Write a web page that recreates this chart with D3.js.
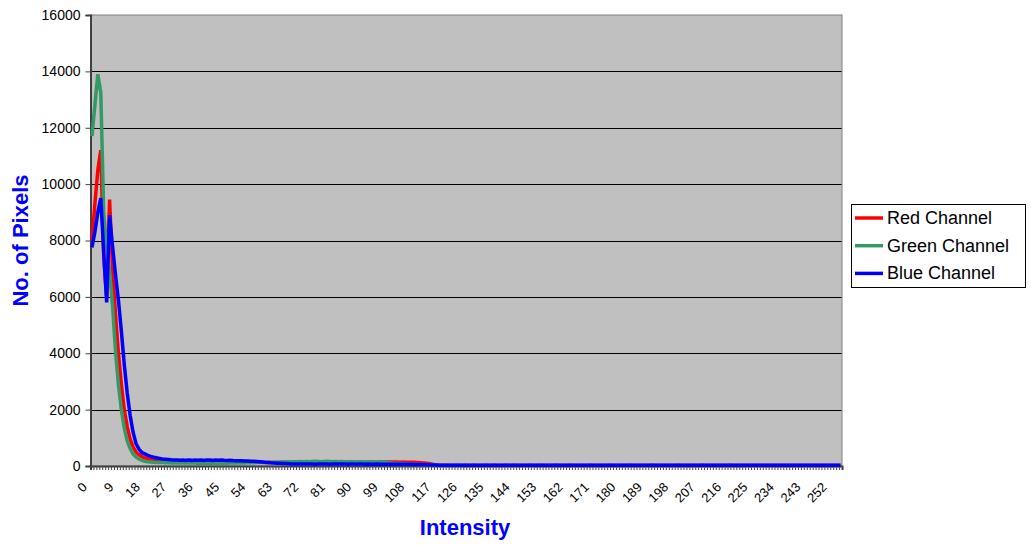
<!DOCTYPE html>
<html>
<head>
<meta charset="utf-8">
<script src="https://cdn.jsdelivr.net/npm/d3@7"></script>
<style>
  body { margin: 0; background: #fff; }
  svg { display: block; font-family: 'Liberation Sans', Arial, sans-serif; }
</style>
</head>
<body>
<svg id="chart" width="1031" height="545"></svg>
<script>

// intensity 0..255
var intensities = d3.range(0, 256);
var yTicks = [0, 2000, 4000, 6000, 8000, 10000, 12000, 14000, 16000];
var xLabelValues = d3.range(0, 256, 9);

var redChannel = [
  8000, 9300, 10500, 11200, 7400, 6000, 9450, 7000, 5400, 4000,
  2900, 2000, 1400, 950, 680, 500, 400, 330, 290, 260,
  240, 230, 220, 210, 205, 200, 195, 190, 185, 190,
  180, 185, 175, 180, 170, 175, 170, 165, 170, 160,
  165, 160, 160, 155, 160, 150, 155, 150, 150, 145,
  150, 140, 145, 140, 135, 140, 130, 135, 130, 125,
  125, 120, 125, 120, 125, 130, 125, 130, 135, 130,
  135, 130, 135, 140, 135, 130, 135, 140, 135, 130,
  135, 130, 135, 140, 135, 130, 135, 130, 135, 130,
  135, 140, 130, 135, 130, 135, 130, 135, 140, 135,
  140, 145, 140, 145, 140, 135, 140, 135, 130, 135,
  130, 120, 115, 110, 100, 80, 60, 40, 35, 30,
  28, 25, 24, 22, 25, 23, 21, 24, 22, 20,
  23, 21, 22, 20, 24, 22, 21, 23, 20, 22,
  21, 24, 22, 20, 23, 21, 22, 20, 21, 23,
  22, 20, 21, 24, 22, 21, 20, 22, 23, 21,
  20, 22, 21, 23, 20, 22, 21, 20, 22, 21,
  23, 20, 21, 22, 20, 21, 23, 22, 20, 21,
  22, 20, 21, 23, 21, 20, 22, 21, 20, 22,
  21, 23, 20, 21, 22, 20, 21, 22, 20, 21,
  23, 21, 20, 22, 21, 20, 22, 21, 23, 20,
  21, 22, 20, 21, 22, 20, 21, 23, 22, 20,
  21, 22, 20, 21, 22, 20, 21, 22, 20, 21,
  22, 20, 21, 22, 20, 21, 22, 20, 21, 22,
  20, 21, 22, 20, 21, 22, 20, 21, 22, 20,
  21, 22, 20, 21, 22, 20
];

var greenChannel = [
  11700, 12800, 13900, 13250, 9000, 7800, 6900, 5700, 4100, 2900,
  2000, 1350, 900, 620, 430, 320, 250, 200, 170, 150,
  140, 130, 125, 120, 120, 115, 115, 110, 115, 110,
  110, 105, 110, 105, 110, 105, 100, 105, 100, 105,
  100, 100, 105, 100, 100, 105, 100, 105, 110, 105,
  110, 115, 110, 115, 120, 115, 120, 125, 120, 125,
  130, 125, 130, 135, 140, 145, 150, 150, 155, 150,
  155, 160, 155, 160, 155, 160, 165, 160, 155, 160,
  165, 160, 155, 160, 155, 160, 155, 150, 155, 150,
  155, 150, 145, 150, 145, 150, 145, 140, 145, 140,
  130, 120, 110, 100, 95, 90, 85, 80, 75, 70,
  65, 60, 55, 50, 45, 40, 35, 30, 25, 22,
  20, 18, 16, 15, 16, 14, 15, 16, 14, 15,
  16, 15, 14, 15, 16, 14, 15, 14, 16, 15,
  14, 15, 16, 14, 15, 16, 15, 14, 15, 16,
  14, 15, 14, 16, 15, 14, 15, 16, 14, 15,
  15, 14, 16, 15, 14, 15, 16, 14, 15, 14,
  16, 15, 14, 15, 16, 14, 15, 14, 16, 15,
  14, 15, 16, 14, 15, 16, 15, 14, 15, 16,
  14, 15, 14, 16, 15, 14, 15, 16, 14, 15,
  15, 14, 16, 15, 14, 15, 16, 14, 15, 14,
  16, 15, 14, 15, 16, 14, 15, 14, 16, 15,
  14, 15, 16, 14, 15, 16, 15, 14, 15, 16,
  14, 15, 14, 16, 15, 14, 15, 16, 14, 15,
  15, 14, 16, 15, 14, 15, 16, 14, 15, 14,
  16, 15, 14, 15, 16, 14
];

var blueChannel = [
  7750, 8300, 9000, 9500, 7600, 5800, 8900, 7800, 6800, 5900,
  4800, 3600, 2600, 1800, 1200, 800, 600, 480, 430, 380,
  340, 310, 290, 270, 250, 240, 230, 220, 215, 210,
  205, 215, 200, 210, 200, 215, 205, 210, 200, 215,
  210, 200, 215, 205, 210, 200, 195, 205, 195, 190,
  185, 190, 180, 175, 170, 165, 160, 150, 140, 130,
  125, 115, 110, 100, 95, 90, 85, 80, 75, 72,
  70, 74, 70, 68, 72, 70, 66, 70, 72, 68,
  70, 66, 70, 68, 72, 70, 68, 66, 70, 68,
  66, 70, 68, 65, 68, 66, 64, 68, 65, 63,
  66, 64, 62, 65, 63, 60, 62, 60, 58, 60,
  56, 55, 52, 50, 46, 42, 38, 32, 28, 26,
  25, 24, 26, 25, 23, 25, 24, 26, 25, 24,
  23, 25, 24, 26, 24, 25, 23, 24, 25, 26,
  24, 23, 25, 24, 25, 23, 24, 26, 25, 24,
  25, 23, 24, 25, 26, 24, 23, 25, 24, 25,
  24, 26, 25, 23, 24, 25, 24, 26, 23, 25,
  24, 25, 23, 24, 26, 25, 24, 23, 25, 24,
  26, 24, 25, 23, 24, 25, 26, 24, 23, 25,
  24, 25, 23, 24, 26, 25, 24, 25, 23, 24,
  25, 26, 24, 23, 25, 24, 25, 24, 26, 23,
  25, 24, 25, 23, 24, 26, 25, 24, 23, 25,
  24, 26, 24, 25, 23, 24, 25, 26, 24, 23,
  25, 24, 25, 23, 24, 26, 25, 24, 25, 23,
  24, 25, 26, 24, 23, 25, 24, 25, 24, 26,
  23, 25, 24, 25, 23, 24
];

var seriesNames = ['Red Channel', 'Green Channel', 'Blue Channel'];
var seriesColors = ['#ff0000', '#339966', '#0000ff'];
var seriesValues = [redChannel, greenChannel, blueChannel];

var margin = {top: 15, right: 189, bottom: 79, left: 90.5};
var width = 1031 - margin.left - margin.right;
var height = 545 - margin.top - margin.bottom;

var svg = d3.select('#chart');
var g = svg.append('g')
    .attr('transform', 'translate(' + margin.left + ',' + margin.top + ')');

var x = d3.scaleBand().domain(intensities).range([0, width]);
var xEdge = d3.scaleLinear().domain([0, 256]).range([0, width]);
var y = d3.scaleLinear().domain([0, 16000]).range([height, 0]);

// plot background
g.append('rect')
    .attr('width', width)
    .attr('height', height)
    .attr('fill', '#c0c0c0');

// gridlines
g.selectAll('.grid')
    .data(yTicks.slice(1, -1))
    .enter()
    .append('line')
    .attr('x1', 0)
    .attr('x2', width)
    .attr('y1', d => Math.round(y(d)) + 0.5)
    .attr('y2', d => Math.round(y(d)) + 0.5)
    .attr('stroke', '#000')
    .attr('stroke-width', 1);

// plot border
g.append('rect')
    .attr('width', width)
    .attr('height', height)
    .attr('fill', 'none')
    .attr('stroke', '#808080')
    .attr('stroke-width', 1);

// y axis
var yAxis = g.append('g')
    .call(d3.axisLeft(y).tickValues(yTicks).tickSize(5).tickPadding(5).tickFormat(d3.format('d')));
yAxis.select('.domain').attr('stroke', '#404040').attr('stroke-width', 2);
yAxis.selectAll('.tick line').attr('stroke', '#404040');
yAxis.selectAll('text').attr('font-size', 14).attr('fill', '#000')
    .attr('font-family', "'Liberation Sans', Arial, sans-serif");

// x axis: a tick at every category boundary
var xAxis = g.append('g')
    .attr('transform', 'translate(0,' + height + ')')
    .call(d3.axisBottom(xEdge).tickValues(d3.range(0, 257)).tickSize(4).tickFormat(''));
xAxis.select('.domain').attr('stroke', '#404040').attr('stroke-width', 2);
xAxis.selectAll('.tick line').attr('stroke', '#404040');

g.selectAll('.xlabel')
    .data(xLabelValues)
    .enter()
    .append('text')
    .attr('class', 'xlabel')
    .attr('transform', d => 'translate(' + (x(d) + x.bandwidth() / 2 - 4) + ',' + (height + 22) + ') rotate(-45)')
    .attr('text-anchor', 'end')
    .attr('font-size', 13)
    .attr('fill', '#000')
    .text(d => d);

// lines
var line = d3.line()
    .x((d, i) => x(intensities[i]) + x.bandwidth() / 2)
    .y(d => y(d));

seriesValues.forEach((vals, k) => {
  g.append('path')
      .datum(vals)
      .attr('fill', 'none')
      .attr('stroke', seriesColors[k])
      .attr('stroke-width', 3.5)
      .attr('stroke-linejoin', 'miter')
      .attr('stroke-miterlimit', 3)
      .attr('d', line);
});

// axis titles
svg.append('text')
    .attr('transform', 'translate(28,' + (margin.top + height / 2) + ') rotate(-90)')
    .attr('text-anchor', 'middle')
    .attr('font-size', 22)
    .attr('font-weight', 'bold')
    .attr('fill', '#0000ff')
    .text('No. of Pixels');

svg.append('text')
    .attr('x', 465)
    .attr('y', 535)
    .attr('text-anchor', 'middle')
    .attr('font-size', 22)
    .attr('font-weight', 'bold')
    .attr('fill', '#0000ff')
    .text('Intensity');

// legend
var legend = svg.append('g').attr('transform', 'translate(851,204)');
legend.append('rect')
    .attr('x', 0.5)
    .attr('y', 0.5)
    .attr('width', 174)
    .attr('height', 83)
    .attr('fill', '#fff')
    .attr('stroke', '#000');

seriesNames.forEach((name, k) => {
  var ly = 14 + k * 27.7;
  legend.append('line')
      .attr('x1', 4)
      .attr('x2', 32)
      .attr('y1', ly)
      .attr('y2', ly)
      .attr('stroke', seriesColors[k])
      .attr('stroke-width', 3.5);
  legend.append('text')
      .attr('x', 36)
      .attr('y', ly + 6)
      .attr('font-size', 18)
      .attr('fill', '#000')
      .text(name);
});

</script>
</body>
</html>
